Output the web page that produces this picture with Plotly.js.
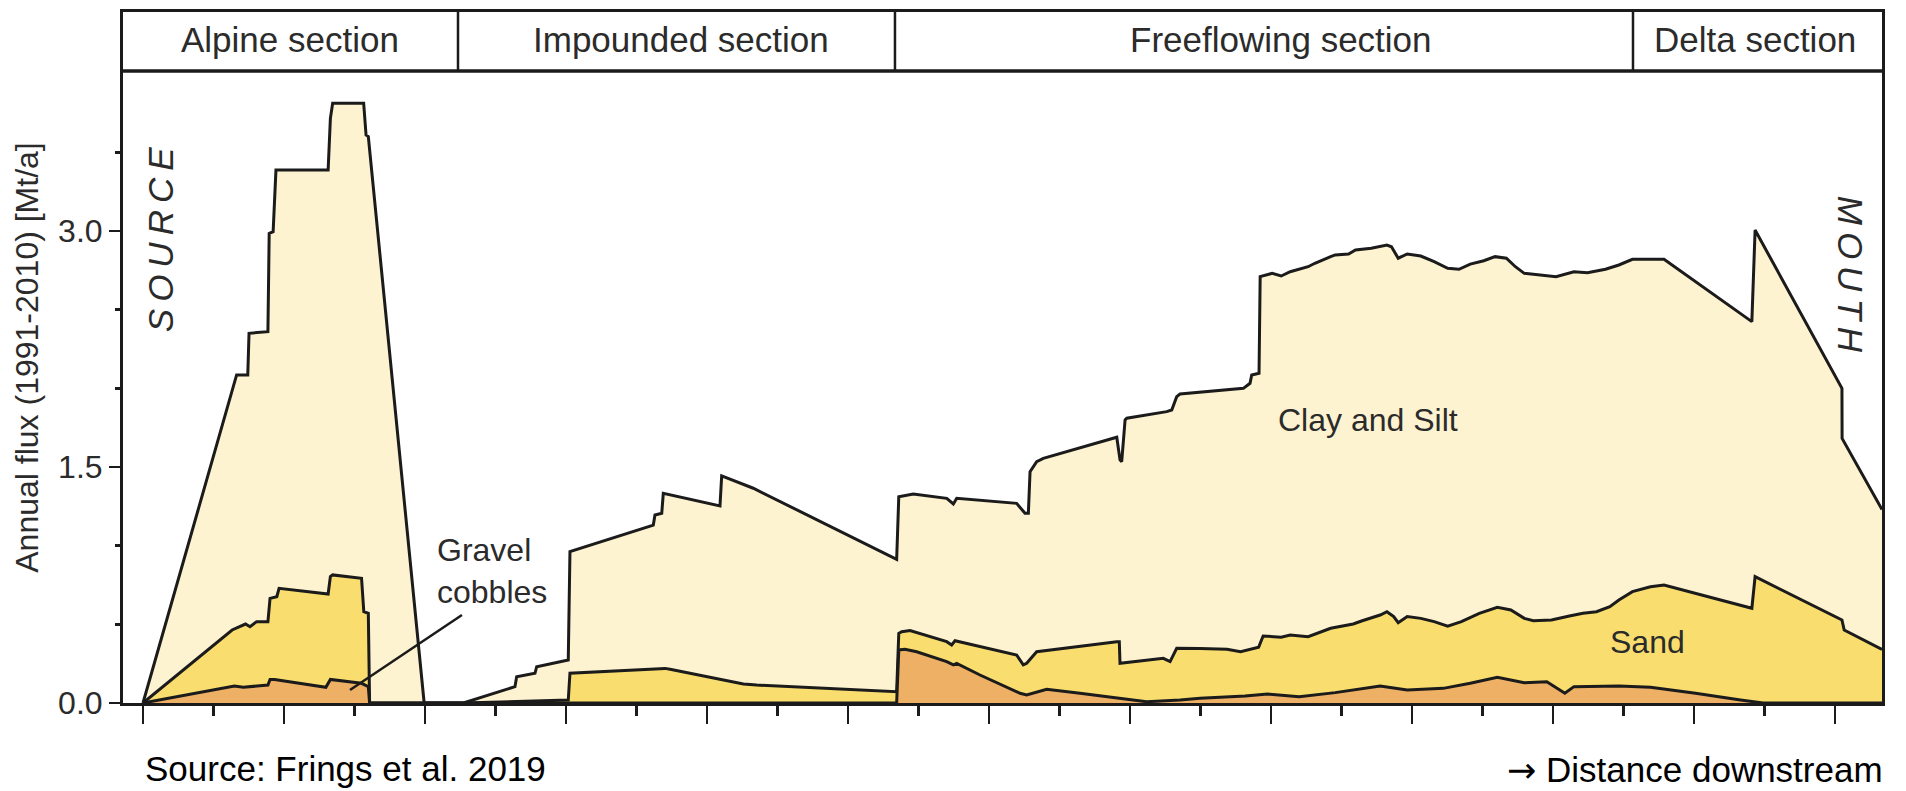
<!DOCTYPE html>
<html>
<head>
<meta charset="utf-8">
<script src="https://cdn.plot.ly/plotly-3.0.1.min.js"></script>
<style>
  html, body { margin: 0; padding: 0; background: #fff; }
  #chart { width: 1906px; height: 791px; }
  g.annotation[data-index="4"] text.annotation-text,
  g.annotation[data-index="5"] text.annotation-text { letter-spacing: 7px; }
</style>
</head>
<body>
<div id="chart"></div>
<script>
// ---- data: distance downstream [km] and annual flux [Mt/a] (cumulative boundaries) ----
const distTotal = [0, 66.4, 74.3, 75.2, 88.6, 89.5, 92.3, 94.3, 131.3, 132.9, 134.5, 156.5, 158.2, 159.8, 199.4,
  227.2, 263.8, 265.0, 278.0, 279.2, 301.6, 302.8, 361.9, 363.1, 367.9, 369.0, 409.2, 410.4, 432.8, 534.5,
  536.0, 546.3, 570.0, 574.7, 577.1, 619.6, 625.5, 627.9, 629.1, 633.8, 638.5, 690.6, 692.9, 694.1, 696.5,
  697.7, 726.0, 729.6, 733.1, 735.5, 780.4, 785.1, 786.3, 791.5, 792.3, 800.8, 807.2, 813.6, 826.3, 831.1,
  842.3, 845.5, 855.0, 859.9, 871.1, 882.2, 885.4, 890.2, 896.6, 906.2, 915.7, 925.3, 933.3, 941.3, 950.9,
  958.9, 966.9, 973.3, 979.6, 989.2, 1002.1, 1014.8, 1024.4, 1037.2, 1046.7, 1056.3, 1078.7, 1141.0, 1143.3,
  1204.9, 1205.0, 1233.3];
const fluxTotal = [0, 2.085, 2.085, 2.35, 2.36, 2.985, 2.996, 3.388, 3.388, 3.716, 3.812, 3.812, 3.61, 3.60, 0,
  0, 0.104, 0.167, 0.189, 0.231, 0.273, 0.962, 1.131, 1.195, 1.206, 1.333, 1.252, 1.443, 1.365, 0.913,
  1.311, 1.328, 1.301, 1.265, 1.301, 1.269, 1.206, 1.206, 1.470, 1.534, 1.555, 1.689, 1.545, 1.534, 1.799,
  1.810, 1.852, 1.862, 1.947, 1.964, 2.000, 2.032, 2.085, 2.096, 2.710, 2.731, 2.714, 2.741, 2.773, 2.795,
  2.837, 2.848, 2.854, 2.879, 2.890, 2.911, 2.900, 2.827, 2.854, 2.841, 2.805, 2.763, 2.757, 2.790, 2.811,
  2.837, 2.827, 2.773, 2.731, 2.720, 2.710, 2.741, 2.735, 2.757, 2.784, 2.820, 2.820, 2.424, 3.006,
  2.000, 1.682, 1.23];

const distSand = [0, 63.2, 72.7, 75.9, 80.6, 88.6, 90.1, 94.9, 96.5, 128.2, 131.3, 132.9, 134.5, 155.0, 156.6,
  159.8, 160.7, 227.2, 301.6, 302.8, 370.2, 373.8, 423.4, 425.8, 435.2, 534.5, 536.0, 538.1, 544.0, 570.0,
  573.5, 575.9, 619.6, 624.3, 626.7, 633.8, 690.6, 692.4, 692.9, 723.6, 728.4, 733.1, 749.6, 768.8, 778.4,
  791.2, 794.4, 807.2, 813.6, 826.3, 842.3, 858.3, 864.7, 877.4, 882.2, 887.0, 890.2, 896.6, 906.2, 915.7,
  925.3, 935.0, 947.7, 960.5, 970.1, 979.6, 986.0, 998.9, 1011.6, 1021.2, 1030.8, 1040.3, 1046.7, 1056.3,
  1069.1, 1078.7, 1141.0, 1143.3, 1204.9, 1206.5, 1233.3];
const fluxSand = [0, 0.464, 0.502, 0.485, 0.517, 0.517, 0.665, 0.676, 0.729, 0.693, 0.693, 0.803, 0.814, 0.793, 0.580,
  0.570, 0, 0, 0.019, 0.189, 0.220, 0.214, 0.129, 0.121, 0.114, 0.072, 0.443, 0.453, 0.460, 0.390,
  0.369, 0.396, 0.305, 0.242, 0.252, 0.326, 0.390, 0.390, 0.252, 0.284, 0.263, 0.348, 0.347, 0.341, 0.326,
  0.354, 0.426, 0.418, 0.432, 0.421, 0.475, 0.502, 0.523, 0.559, 0.580, 0.549, 0.510, 0.549, 0.538, 0.517,
  0.489, 0.517, 0.570, 0.608, 0.591, 0.538, 0.523, 0.528, 0.553, 0.570, 0.580, 0.612, 0.655, 0.708,
  0.739, 0.750, 0.602, 0.803, 0.528, 0.464, 0.34];

const distGravel = [0, 64.8, 71.1, 88.6, 90.1, 93.3, 129.7, 132.9, 155.0, 159.8, 160.7, 534.5, 536.0, 540.4,
  548.7, 570.0, 574.7, 577.1, 593.6, 622.0, 626.7, 636.2, 640.9, 664.5, 692.9, 711.8, 735.5, 749.6, 781.6,
  797.6, 819.9, 845.5, 877.4, 896.6, 922.1, 941.3, 960.5, 979.6, 995.6, 1008.4, 1014.8, 1046.7, 1069.1,
  1101.1, 1133.0, 1149.0, 1233.3];
const fluxGravel = [0, 0.108, 0.100, 0.114, 0.150, 0.150, 0.100, 0.150, 0.125, 0.104, 0, 0, 0.337, 0.341,
  0.326, 0.263, 0.242, 0.252, 0.178, 0.062, 0.051, 0.078, 0.087, 0.062, 0.030, 0.008, 0.019, 0.030, 0.044,
  0.057, 0.040, 0.066, 0.108, 0.083, 0.093, 0.125, 0.163, 0.129, 0.135, 0.062, 0.104, 0.108, 0.100,
  0.062, 0.019, 0, 0];

const sectionNames = ['Alpine section', 'Impounded section', 'Freeflowing section', 'Delta section'];
const sectionLabelKm = [104.3, 381.6, 807.2, 1143.3];
const sectionBoundsKm = [223.4, 533.3, 1056.7];
const yTickVals = [0, 1.5, 3.0];
const yTickText = ['0.0', '1.5', '3.0'];
const yMinorVals = [0.5, 1.0, 2.0, 2.5, 3.5];

// ---- styling ----
const INK = '#1b1b1b';
const TXT = '#2b2b2b';
const FONT = 'Liberation Sans, Arial, Helvetica, sans-serif';
const HEADER_Y0 = 4.017, HEADER_Y1 = 4.392;

function layer(x, y, fill) {
  return { type: 'scatter', mode: 'lines', x: x, y: y, fill: 'tozeroy', fillcolor: fill,
           line: { color: INK, width: 3 }, hoverinfo: 'skip' };
}
const data = [
  layer(distTotal, fluxTotal, '#FEF3D0'),
  layer(distSand, fluxSand, '#F9DE6F'),
  layer(distGravel, fluxGravel, '#EEB064')
];

const shapes = [
  { type: 'line', xref: 'paper', yref: 'y', x0: 0, x1: 1, y0: HEADER_Y0, y1: HEADER_Y0,
    line: { color: INK, width: 3.5 } }
];
sectionBoundsKm.forEach(b => shapes.push({ type: 'line', xref: 'x', yref: 'y', x0: b, x1: b,
  y0: HEADER_Y0, y1: HEADER_Y1, line: { color: INK, width: 2.5 } }));
shapes.push({ type: 'line', xref: 'x', yref: 'y', x0: 226.2, y0: 0.559, x1: 146.8, y1: 0.083,
  line: { color: INK, width: 2.5 } });

const annotations = [];
sectionNames.forEach((n, i) => annotations.push({ text: n, x: sectionLabelKm[i], y: 4.215, xref: 'x', yref: 'y',
  showarrow: false, font: { family: FONT, size: 35, color: TXT } }));
annotations.push({ text: 'SOURCE', x: 12.4, y: 2.97, xref: 'x', yref: 'y', showarrow: false, textangle: -90,
  font: { family: FONT, size: 35, color: TXT, style: 'italic' } });
annotations.push({ text: 'MOUTH', x: 1211.3, y: 2.70, xref: 'x', yref: 'y', showarrow: false, textangle: 90,
  font: { family: FONT, size: 35, color: TXT, style: 'italic' } });
annotations.push({ text: 'Clay and Silt', x: 868.8, y: 1.80, xref: 'x', yref: 'y', showarrow: false,
  font: { family: FONT, size: 32, color: TXT } });
annotations.push({ text: 'Sand', x: 1066.7, y: 0.388, xref: 'x', yref: 'y', showarrow: false,
  font: { family: FONT, size: 32, color: TXT } });
annotations.push({ text: 'Gravel<br>cobbles', x: 207.1, y: 0.839, xref: 'x', yref: 'y', showarrow: false,
  xanchor: 'left', align: 'left', font: { family: FONT, size: 32, color: TXT } });
annotations.push({ text: '<span style="font-family:DejaVu Sans">\u2192</span> Distance downstream', x: 1.0017, y: -0.097,
  xref: 'paper', yref: 'paper', xanchor: 'right', yanchor: 'middle', showarrow: false,
  font: { family: FONT, size: 35, color: '#000' } });
annotations.push({ text: 'Source: Frings et al. 2019', x: 0.0114, y: -0.1262, xref: 'paper', yref: 'paper',
  xanchor: 'left', yanchor: 'bottom', showarrow: false, font: { family: FONT, size: 35, color: '#000' } });

const layout = {
  width: 1906, height: 791,
  margin: { l: 123, r: 24, t: 12, b: 88, pad: 0 },
  paper_bgcolor: '#fff', plot_bgcolor: '#fff',
  showlegend: false,
  font: { family: FONT, color: TXT },
  xaxis: {
    range: [-14.18, 1233.3], showgrid: false, zeroline: false,
    showline: true, mirror: true, linecolor: INK, linewidth: 3,
    ticks: 'outside', tickmode: 'linear', tick0: 0, dtick: 100, ticklen: 18, tickwidth: 2.5, tickcolor: INK,
    showticklabels: false,
    minor: { tickmode: 'linear', tick0: 0, dtick: 50, ticks: 'outside', ticklen: 10, tickwidth: 2.5, tickcolor: INK, showgrid: false },
    fixedrange: true
  },
  yaxis: {
    range: [0, HEADER_Y1], showgrid: false, zeroline: false,
    showline: true, mirror: true, linecolor: INK, linewidth: 3,
    ticks: 'outside', tickmode: 'array', tickvals: yTickVals, ticktext: yTickText,
    ticklen: 11, tickwidth: 2.5, tickcolor: INK,
    tickfont: { family: FONT, size: 32, color: TXT },
    minor: { tickmode: 'array', tickvals: yMinorVals, ticks: 'outside', ticklen: 5, tickwidth: 3, tickcolor: INK, showgrid: false },
    title: { text: 'Annual flux (1991-2010) [Mt/a]', font: { family: FONT, size: 32, color: TXT }, standoff: 10 },
    fixedrange: true
  },
  shapes: shapes,
  annotations: annotations
};

Plotly.newPlot('chart', data, layout, { displayModeBar: false, staticPlot: true });
</script>
</body>
</html>
